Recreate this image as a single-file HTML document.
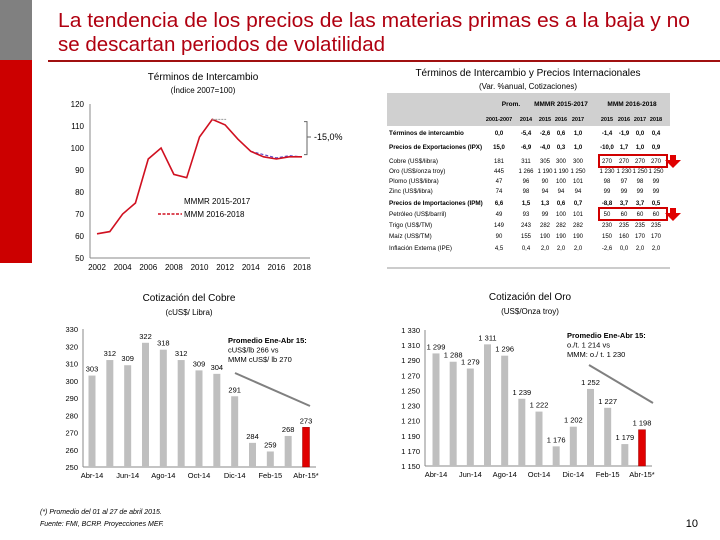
<!DOCTYPE html>
<html><head><meta charset="utf-8"><style>
body{margin:0;width:720px;height:540px;overflow:hidden;background:#fff;font-family:"Liberation Sans",sans-serif}
svg{display:block}
</style></head><body>
<svg id="s" width="720" height="540" xmlns="http://www.w3.org/2000/svg" font-family="Liberation Sans, sans-serif">
<rect x="0" y="0" width="32" height="60" fill="#808080"/>
<rect x="0" y="60" width="32" height="203" fill="#cc0000"/>
<text x="58" y="27" font-size="20.5" fill="#b00010" textLength="632" lengthAdjust="spacingAndGlyphs">La tendencia de los precios de las materias primas es a la baja y no</text>
<text x="58" y="51" font-size="20.5" fill="#b00010" textLength="327" lengthAdjust="spacingAndGlyphs">se descartan periodos de volatilidad</text>
<line x1="48" y1="61" x2="720" y2="61" stroke="#a01010" stroke-width="2"/>

<text x="203" y="80" font-size="10" text-anchor="middle">Términos de Intercambio</text>
<text x="203" y="93" font-size="8" text-anchor="middle">(Índice 2007=100)</text>
<g id="tot"></g>

<text x="528" y="76" font-size="10" text-anchor="middle">Términos de Intercambio y Precios Internacionales</text>
<text x="528" y="89" font-size="8" text-anchor="middle">(Var. %anual, Cotizaciones)</text>
<g id="tbl"></g>

<text x="189" y="301" font-size="10" text-anchor="middle">Cotización del Cobre</text>
<text x="189" y="315" font-size="8" text-anchor="middle">(cUS$/ Libra)</text>
<g id="cu"></g>
<text x="530" y="300" font-size="10" text-anchor="middle">Cotización del Oro</text>
<text x="530" y="314" font-size="8" text-anchor="middle">(US$/Onza troy)</text>
<g id="au"></g>

<text x="40" y="514" font-size="7" font-style="italic">(*) Promedio del 01 al 27 de abril 2015.</text>
<text x="40" y="526" font-size="7" font-style="italic">Fuente: FMI, BCRP. Proyecciones MEF.</text>
<text x="698" y="527" font-size="11" text-anchor="end">10</text>
</svg>
<script>
const NS="http://www.w3.org/2000/svg";
function mk(parent,tag,attrs,txt){const e=document.createElementNS(NS,tag);for(const k in attrs)e.setAttribute(k,attrs[k]);if(txt!==undefined)e.textContent=txt;parent.appendChild(e);return e;}

// ---- Terms of trade data ----
const totYears=[2002,2003,2004,2005,2006,2007,2008,2009,2010,2011,2012,2013,2014,2015,2016,2017,2018];
const totMMM=[61,62,70,75,95,100,88,86.5,105,113,110.5,104,98.5,96,95,96,96];
const totMMMRYears=[2014,2015,2016,2017,2018];
const totMMMR=[98.5,97,95.5,96.5,96];
const totYTicks=[50,60,70,80,90,100,110,120];
const totXTicks=[2002,2004,2006,2008,2010,2012,2014,2016,2018];

// ---- Copper / Gold data ----
const months=["Abr-14","May-14","Jun-14","Jul-14","Ago-14","Set-14","Oct-14","Nov-14","Dic-14","Ene-15","Feb-15","Mar-15","Abr-15*"];
const cuValues=[303,312,309,322,318,312,306,304,291,264,259,268,273];
const cuLabels=["303","312","309","322","318","312","309","304","291","284","259","268","273"];
const cuYTicks=[250,260,270,280,290,300,310,320,330];
const auValues=[1299,1288,1279,1311,1296,1239,1222,1176,1202,1252,1227,1179,1198];
const auLabels=["1 299","1 288","1 279","1 311","1 296","1 239","1 222","1 176","1 202","1 252","1 227","1 179","1 198"];
const auYTicks=[1150,1170,1190,1210,1230,1250,1270,1290,1310,1330];

// ---- Table data ----
const tblRows=["Términos de intercambio","Precios de Exportaciones (IPX)","Cobre (US$/libra)","Oro (US$/onza troy)","Plomo (US$/libra)","Zinc (US$/libra)","Precios de Importaciones (IPM)","Petróleo (US$/barril)","Trigo (US$/TM)","Maíz (US$/TM)","Inflación Externa (IPE)"];
const tblBold=[true,true,false,false,false,false,true,false,false,false,false];
const tblVals=[
["0,0","-5,4","-2,6","0,6","1,0","-1,4","-1,9","0,0","0,4"],
["15,0","-6,9","-4,0","0,3","1,0","-10,0","1,7","1,0","0,9"],
["181","311","305","300","300","270","270","270","270"],
["445","1 266","1 190","1 190","1 250","1 230","1 230","1 250","1 250"],
["47","96","90","100","101","98","97","98","99"],
["74","98","94","94","94","99","99","99","99"],
["6,6","1,5","1,3","0,6","0,7","-8,8","3,7","3,7","0,5"],
["49","93","99","100","101","50","60","60","60"],
["149","243","282","282","282","230","235","235","235"],
["90","155","190","190","190","150","160","170","170"],
["4,5","0,4","2,0","2,0","2,0","-2,6","0,0","2,0","2,0"]];
const tblYears=["2001-2007","2014","2015","2016","2017","2015","2016","2017","2018"];

// ===== Terms of trade chart =====
(function(){
 const g=document.getElementById('tot');
 const x0=97,x1=302,y0=258,y1=104;
 const X=v=>x0+(v-2002)/(2018-2002)*(x1-x0);
 const Y=v=>y0-(v-50)/(120-50)*(y0-y1);
 const ax=mk(g,'line',{x1:90,y1:y1,x2:90,y2:y0,stroke:'#888','stroke-width':1});
 
 const bx=mk(g,'line',{x1:90,y1:y0,x2:310,y2:y0,stroke:'#888','stroke-width':1});
 
 totYTicks.forEach(t=>{const e=mk(g,'text',{x:84,y:Y(t)+3,'font-size':8,'text-anchor':'end'},String(t));
  });
 totXTicks.forEach(t=>{const e=mk(g,'text',{x:X(t),y:270,'font-size':8,'text-anchor':'middle'},String(t));
  });
 const pm=mk(g,'polyline',{points:totMMMRYears.map((y,i)=>X(y)+','+Y(totMMMR[i])).join(' '),fill:'none',stroke:'#6040c0','stroke-width':1.2,'stroke-dasharray':'3,2'});
 
 const pl=mk(g,'polyline',{points:totYears.map((y,i)=>X(y)+','+Y(totMMM[i])).join(' '),fill:'none',stroke:'#d01020','stroke-width':1.6});
 
 const pk=mk(g,'line',{x1:X(2011),y1:Y(113),x2:X(2012)+1,y2:Y(113),stroke:'#999','stroke-dasharray':'2,1'});
 
 const br=mk(g,'path',{d:`M304 ${Y(112)} H307 V${Y(97)} H304 M307 ${Y(105)} H311`,fill:'none',stroke:'#666'});
 
 const bl=mk(g,'text',{x:314,y:Y(105)+3,'font-size':9},'-15,0%');
 
 const l1=mk(g,'text',{x:184,y:204,'font-size':8},'MMMR 2015-2017');
 
 const ll=mk(g,'line',{x1:158,y1:214,x2:182,y2:214,stroke:'#d01020','stroke-width':1.6,'stroke-dasharray':'3,1.5'});
 
 const l2=mk(g,'text',{x:184,y:217,'font-size':8},'MMM 2016-2018');
 
})();

// ===== Table =====
(function(){
 const g=document.getElementById('tbl');
 const hb=mk(g,'rect',{x:387,y:93,width:283,height:33,fill:'#d0d0d0'});
 
 const colX=[499,526,545,561,578,607,624,640,656];
 [["Prom.",511],["MMMR 2015-2017",561],["MMM 2016-2018",632]].forEach(h=>{
  const e=mk(g,'text',{x:h[1],y:106,'font-size':6.5,'font-weight':'bold','text-anchor':'middle'},h[0]);
  });
 tblYears.forEach((t,i)=>{const e=mk(g,'text',{x:colX[i],y:121,'font-size':5.5,'font-weight':'bold','text-anchor':'middle'},t);
  });
 const rowY=[135,149,163,173,183,193,205,216,227,238,250];
 tblRows.forEach((r,i)=>{
  const e=mk(g,'text',{x:389,y:rowY[i],'font-size':6.3,'font-weight':tblBold[i]?'bold':'normal'},r);
  
  tblVals[i].forEach((v,j)=>{const c=mk(g,'text',{x:colX[j],y:rowY[i],'font-size':6,'text-anchor':'middle','font-weight':tblBold[i]?'bold':'normal'},v);
   });
 });
 const bl=mk(g,'line',{x1:387,y1:268,x2:670,y2:268,stroke:'#999'});
 
 [[155],[208]].forEach((b,k)=>{
  const r=mk(g,'rect',{x:599,y:b[0],width:68,height:12,fill:'none',stroke:'#d00000','stroke-width':2});
  
  const a=mk(g,'path',{d:`M670 ${b[0]} h6 v5 h5 l-8 8 l-8 -8 h5z`,fill:'#e00000'});
  
 });
})();

// ===== Bar charts =====
function barChart(id,vals,labels,ticks,o){
 const g=document.getElementById(id);
 const [ymin,ymax]=[ticks[0],ticks[ticks.length-1]];
 const Y=v=>o.y0-(v-ymin)/(ymax-ymin)*(o.y0-o.y1);
 const X=i=>o.bx0+i*(o.bx1-o.bx0)/(vals.length-1);
 const ax=mk(g,'line',{x1:o.ax,y1:o.y1,x2:o.ax,y2:o.y0,stroke:'#888'});
 
 const bx=mk(g,'line',{x1:o.ax,y1:o.y0,x2:o.bx1+10,y2:o.y0,stroke:'#888'});
 
 ticks.forEach(t=>{const e=mk(g,'text',{x:o.ax-5,y:Y(t)+3,'font-size':7.5,'text-anchor':'end'},o.fmt(t));
  });
 vals.forEach((v,i)=>{
  const last=i===vals.length-1;
  const r=mk(g,'rect',{x:X(i)-3.5,y:Y(v),width:7,height:o.y0-Y(v),fill:last?'#e00000':'#bfbfbf',stroke:last?'#900':'none','stroke-width':0.5});
  
  const t=mk(g,'text',{x:X(i),y:Y(v)-4,'font-size':7.5,'text-anchor':'middle'},labels[i]);
  
  if(i%2===0){const m=mk(g,'text',{x:X(i),y:o.y0+11,'font-size':7.5,'text-anchor':'middle'},months[i]);
   }
 });
 const ar=mk(g,'line',{x1:o.arr[0],y1:o.arr[1],x2:o.arr[2],y2:o.arr[3],stroke:'#808080','stroke-width':2});
 
 o.note.forEach((n,k)=>{const e=mk(g,'text',{x:o.nx,y:o.ny+k*9.5,'font-size':7.5,'font-weight':k===0?'bold':'normal'},n);
  });
}
barChart('cu',cuValues,cuLabels,cuYTicks,{ax:83,y0:467,y1:329,bx0:92,bx1:306,fmt:String,
 arr:[235,373,310,406],nx:228,ny:343,note:["Promedio Ene-Abr 15:","cUS$/lb 266 vs","MMM  cUS$/ lb 270"]});
barChart('au',auValues,auLabels,auYTicks,{ax:425,y0:466,y1:330,bx0:436,bx1:642,fmt:t=>String(t).replace(/^(\d)/,'$1 '),
 arr:[589,365,653,403],nx:567,ny:338,note:["Promedio Ene-Abr 15:","o./t. 1 214 vs","MMM: o./ t. 1 230"]});
</script>
</body></html>
